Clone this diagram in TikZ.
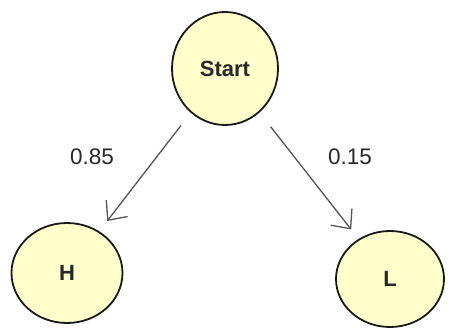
\documentclass[tikz,border=0pt]{standalone}
\usepackage{fontspec}
\setmainfont{Liberation Sans}
\usetikzlibrary{shapes.geometric,arrows.meta}
\definecolor{statefill}{RGB}{255,255,204}
\definecolor{arrowgray}{RGB}{85,85,85}
\definecolor{textdark}{RGB}{40,40,40}
\tikzset{
  statenode/.style={ellipse, draw=black!90, line width=1.8pt, fill=statefill, inner sep=0pt, font=\fontsize{22}{24}\selectfont\bfseries, text=textdark},
  trans/.style={draw=arrowgray, line width=1.3pt, -{Straight Barb[length=15pt,width=27pt,line width=1.3pt]}},
  problabel/.style={font=\fontsize{22.5}{24}\selectfont, text=textdark}
}
\begin{document}
\begin{tikzpicture}[x=1pt,y=-1pt]
\useasboundingbox (0,0) rectangle (449,329);
\node[statenode, minimum width=106pt, minimum height=113pt] (s) at (225,68.5) {Start};
\node[statenode, minimum width=111pt, minimum height=100pt] (h) at (67,273) {H};
\node[statenode, minimum width=108pt, minimum height=96pt] (l) at (390,279) {L};
\draw[trans, shorten <=16pt, shorten >=13pt] (s) -- (h);
\draw[trans, shorten <=18pt, shorten >=12pt] (s) -- (l);
\node[problabel] (p1) at (92,157) {0.85};
\node[problabel] (p2) at (350,157) {0.15};
\end{tikzpicture}
\end{document}
